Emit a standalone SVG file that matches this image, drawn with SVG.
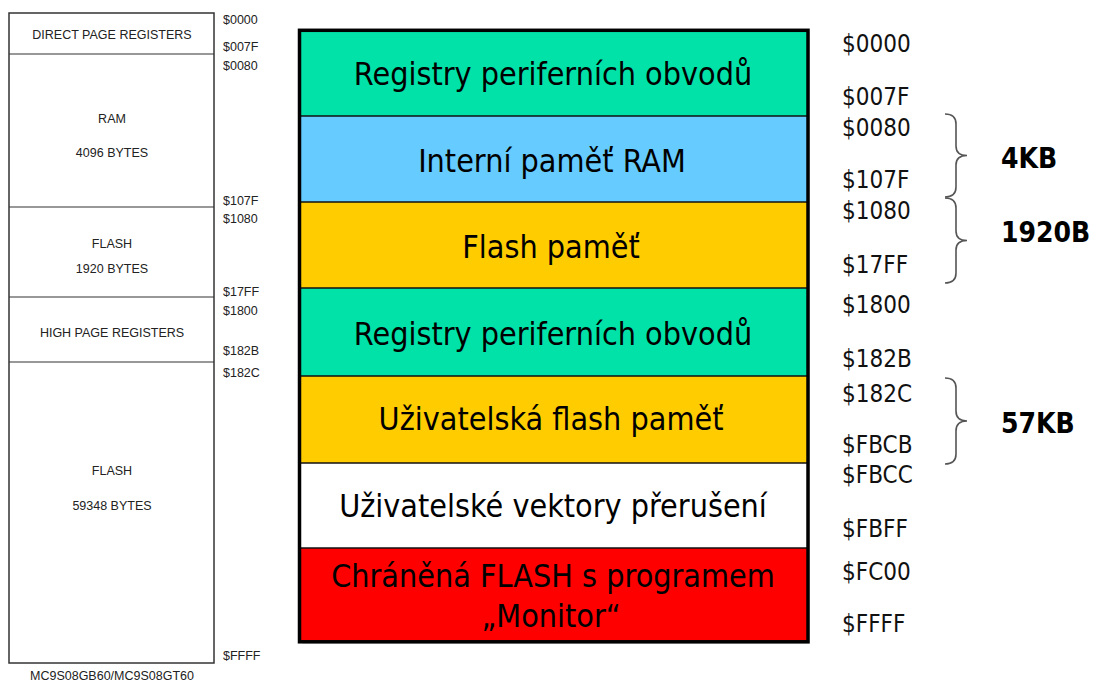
<svg xmlns="http://www.w3.org/2000/svg" width="1093" height="682" viewBox="0 0 1093 682">
  <style>
    .small { font-family: "Liberation Sans", Arial, sans-serif; font-size: 12.5px; fill: #222; }
    .mid { text-anchor: middle; }
    .band-text { font-family: "DejaVu Sans Condensed", "DejaVu Sans", sans-serif; font-stretch: condensed; font-size: 32px; fill: #000; text-anchor: middle; }
    .addr { font-family: "DejaVu Sans Condensed", "DejaVu Sans", sans-serif; font-stretch: condensed; font-size: 24px; fill: #111; }
    .size { font-family: "DejaVu Sans Condensed", "DejaVu Sans", sans-serif; font-stretch: condensed; font-weight: bold; font-size: 28px; fill: #000; }
    .divider { stroke: #111; stroke-width: 1.5; }
    .brace { fill: none; stroke: #555; stroke-width: 1.6; }
  </style>
  <rect width="1093" height="682" fill="#ffffff"/>

  <!-- Datasheet memory map (left) -->
  <g id="datasheet-map">
    <rect x="9" y="13" width="205" height="650" fill="#fff" stroke="#333" stroke-width="1.5"/>
    <line x1="9" y1="54" x2="214" y2="54" stroke="#333" stroke-width="1.2"/>
    <line x1="9" y1="207" x2="214" y2="207" stroke="#333" stroke-width="1.2"/>
    <line x1="9" y1="297" x2="214" y2="297" stroke="#333" stroke-width="1.2"/>
    <line x1="9" y1="362" x2="214" y2="362" stroke="#333" stroke-width="1.2"/>
    <text class="small mid" x="112" y="39">DIRECT PAGE REGISTERS</text>
    <text class="small mid" x="112" y="123">RAM</text>
    <text class="small mid" x="112" y="157">4096 BYTES</text>
    <text class="small mid" x="112" y="248">FLASH</text>
    <text class="small mid" x="112" y="273">1920 BYTES</text>
    <text class="small mid" x="112" y="337">HIGH PAGE REGISTERS</text>
    <text class="small mid" x="112" y="475">FLASH</text>
    <text class="small mid" x="112" y="510">59348 BYTES</text>
    <text class="small mid" x="112" y="680">MC9S08GB60/MC9S08GT60</text>
    <g id="datasheet-addresses">
      <text class="small" x="223" y="24">$0000</text>
      <text class="small" x="223" y="51">$007F</text>
      <text class="small" x="223" y="70">$0080</text>
      <text class="small" x="223" y="205">$107F</text>
      <text class="small" x="223" y="223">$1080</text>
      <text class="small" x="223" y="296">$17FF</text>
      <text class="small" x="223" y="315">$1800</text>
      <text class="small" x="223" y="355">$182B</text>
      <text class="small" x="223" y="377">$182C</text>
      <text class="small" x="223" y="660">$FFFF</text>
    </g>
  </g>

  <!-- Colour-coded memory map (right) -->
  <g id="memory-map">
    <rect x="301" y="31" width="507" height="611" fill="#888" opacity="0.5" transform="translate(1.5,1.5)"/>
    <g id="band-periph-low">
      <rect x="299.5" y="30.3" width="508.5" height="85.7" fill="#00E2A8"/>
      <text class="band-text" x="553" y="85">Registry periferních obvodů</text>
    </g>
    <g id="band-ram">
      <rect x="299.5" y="116" width="508.5" height="86" fill="#66CCFF"/>
      <text class="band-text" x="552" y="172">Interní paměť RAM</text>
    </g>
    <g id="band-flash">
      <rect x="299.5" y="202" width="508.5" height="86" fill="#FFCC00"/>
      <text class="band-text" x="551" y="258">Flash paměť</text>
    </g>
    <g id="band-periph-high">
      <rect x="299.5" y="288" width="508.5" height="88" fill="#00E2A8"/>
      <text class="band-text" x="553" y="345">Registry periferních obvodů</text>
    </g>
    <g id="band-user-flash">
      <rect x="299.5" y="376" width="508.5" height="87" fill="#FFCC00"/>
      <text class="band-text" x="551" y="430">Uživatelská flash paměť</text>
    </g>
    <g id="band-vectors">
      <rect x="299.5" y="463" width="508.5" height="85" fill="#FFFFFF"/>
      <text class="band-text" x="553" y="517">Uživatelské vektory přerušení</text>
    </g>
    <g id="band-monitor">
      <rect x="299.5" y="548" width="508.5" height="94" fill="#FF0000"/>
      <text class="band-text" x="553" y="587">Chráněná FLASH s programem</text>
      <text class="band-text" x="551" y="627">„Monitor“</text>
    </g>
    <g id="band-dividers">
      <line class="divider" x1="299.5" y1="116" x2="808" y2="116"/>
      <line class="divider" x1="299.5" y1="202" x2="808" y2="202"/>
      <line class="divider" x1="299.5" y1="288" x2="808" y2="288"/>
      <line class="divider" x1="299.5" y1="376" x2="808" y2="376"/>
      <line class="divider" x1="299.5" y1="463" x2="808" y2="463"/>
      <line class="divider" x1="299.5" y1="548" x2="808" y2="548"/>
    </g>
    <rect x="299.5" y="30.3" width="508.5" height="611.5" fill="none" stroke="#000" stroke-width="3.5"/>
  </g>

  <!-- Address labels -->
  <g id="addresses">
    <text class="addr" x="842" y="52">$0000</text>
    <text class="addr" x="842" y="105">$007F</text>
    <text class="addr" x="842" y="136">$0080</text>
    <text class="addr" x="842" y="188">$107F</text>
    <text class="addr" x="842" y="219">$1080</text>
    <text class="addr" x="842" y="273">$17FF</text>
    <text class="addr" x="842" y="313">$1800</text>
    <text class="addr" x="842" y="367">$182B</text>
    <text class="addr" x="842" y="402">$182C</text>
    <text class="addr" x="842" y="453">$FBCB</text>
    <text class="addr" x="842" y="483">$FBCC</text>
    <text class="addr" x="842" y="537">$FBFF</text>
    <text class="addr" x="842" y="580">$FC00</text>
    <text class="addr" x="842" y="632">$FFFF</text>
  </g>

  <!-- Size braces -->
  <g id="braces">
    <path class="brace" d="M945,114 Q956,114 956,124 L956,146 Q956,155.5 967,155.5 Q956,155.5 956,165 L956,187 Q956,197 945,197"/>
    <path class="brace" d="M945,198 Q956,198 956,208 L956,231 Q956,240.5 967,240.5 Q956,240.5 956,250 L956,273 Q956,283 945,283"/>
    <path class="brace" d="M945,378 Q956,378 956,388 L956,411 Q956,421 967,421 Q956,421 956,431 L956,454 Q956,464 945,464"/>
  </g>
  <g id="sizes">
    <text class="size" x="1001" y="168">4KB</text>
    <text class="size" x="1001" y="242">1920B</text>
    <text class="size" x="1001" y="433">57KB</text>
  </g>
</svg>
